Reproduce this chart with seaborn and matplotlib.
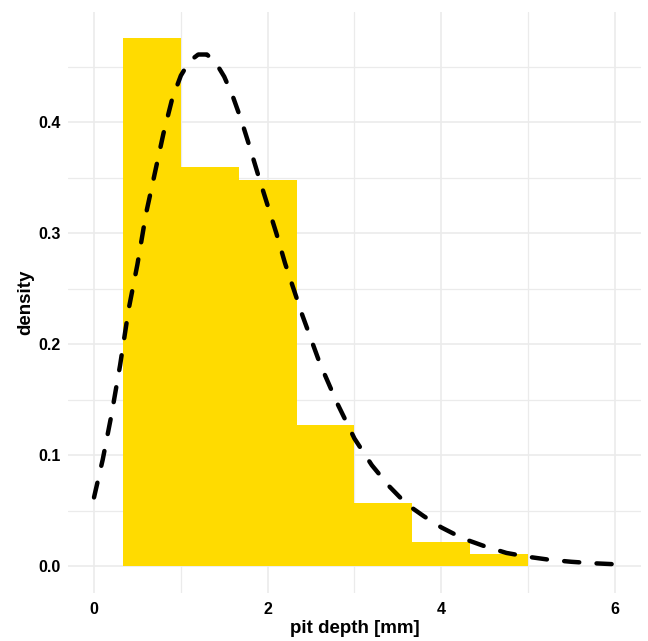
import numpy as np
import pandas as pd
import matplotlib
matplotlib.use("Agg")
import matplotlib.pyplot as plt
import seaborn as sns

# ---- data ----
bin_edges = [1/3, 1.0, 5/3, 7/3, 3.0, 11/3, 13/3, 5.0]
bin_density = [0.476, 0.360, 0.348, 0.127, 0.057, 0.022, 0.011]

curve_x = [0.0, 0.1, 0.2, 0.3, 0.4, 0.5, 0.6, 0.7, 0.8, 0.9, 1.0, 1.1, 1.2, 1.3,
           1.4, 1.5, 1.6, 1.7, 1.8, 1.9, 2.0, 2.1, 2.2, 2.4, 2.6, 2.8, 3.0, 3.2,
           3.4, 3.6, 3.8, 4.0, 4.25, 4.5, 4.75, 5.0, 5.25, 5.5, 5.75, 6.0]
curve_y = [0.062, 0.096, 0.136, 0.181, 0.232, 0.272, 0.318, 0.354, 0.390, 0.421,
           0.442, 0.455, 0.461, 0.461, 0.454, 0.441, 0.423, 0.401, 0.376, 0.350,
           0.325, 0.300, 0.273, 0.226, 0.183, 0.147, 0.115, 0.091, 0.072, 0.056,
           0.045, 0.035, 0.025, 0.018, 0.012, 0.0085, 0.0058, 0.004, 0.0027, 0.0018]

x_ticks = [0, 2, 4, 6]
x_minor = [1, 3, 5]
y_ticks = [0.0, 0.1, 0.2, 0.3, 0.4]
y_minor = [0.05, 0.15, 0.25, 0.35, 0.45]

x_label = "pit depth [mm]"
y_label = "density"

# ---- plotting ----
sns.set_style("white")
plt.rcParams["font.family"] = ["Liberation Sans", "DejaVu Sans"]

fig = plt.figure(figsize=(6.48, 6.41), dpi=100)
ax = fig.add_axes([0.1049, 0.0754, 0.8843, 0.9064])

centers = [(a + b) / 2 for a, b in zip(bin_edges[:-1], bin_edges[1:])]
hist_df = pd.DataFrame({"center": centers, "density": bin_density})
sns.histplot(data=hist_df, x="center", weights="density", bins=bin_edges,
             stat="count", color="#FFDB00", alpha=1.0, linewidth=0,
             edgecolor="none", ax=ax, zorder=2)
for p in ax.patches:
    p.set_antialiased(False)

curve_df = pd.DataFrame({"x": curve_x, "y": curve_y})
sns.lineplot(data=curve_df, x="x", y="y", color="black", linewidth=3.2,
             ax=ax, zorder=3, sort=False)
line = ax.lines[-1]
line.set_dashes((3.4, 3.9))
line.set_dash_capstyle("round")

ax.set_xlim(-0.3, 6.3)
ax.set_ylim(-0.0238, 0.4996)
ax.set_xticks(x_ticks)
ax.set_xticks(x_minor, minor=True)
ax.set_yticks(y_ticks)
ax.set_yticks(y_minor, minor=True)
ax.set_xticklabels([str(v) for v in x_ticks])
ax.set_yticklabels([f"{v:.1f}" for v in y_ticks])

ax.set_axisbelow(True)
ax.grid(True, which="major", color="#EBEBEB", linewidth=1.2)
ax.grid(True, which="minor", color="#EBEBEB", linewidth=0.9)
for s in ax.spines.values():
    s.set_visible(False)

ax.tick_params(axis="both", which="both", length=0)
ax.tick_params(axis="x", pad=7, labelsize=11.5)
ax.tick_params(axis="y", pad=5, labelsize=11.5)
for lab in ax.get_xticklabels() + ax.get_yticklabels():
    lab.set_fontweight("bold")
    lab.set_color("black")

ax.set_xlabel(x_label, fontsize=13.5, fontweight="bold", color="black", labelpad=2)
ax.set_ylabel(y_label, fontsize=13.5, fontweight="bold", color="black", labelpad=3)

fig.savefig("out.png", dpi=100, facecolor="white")
